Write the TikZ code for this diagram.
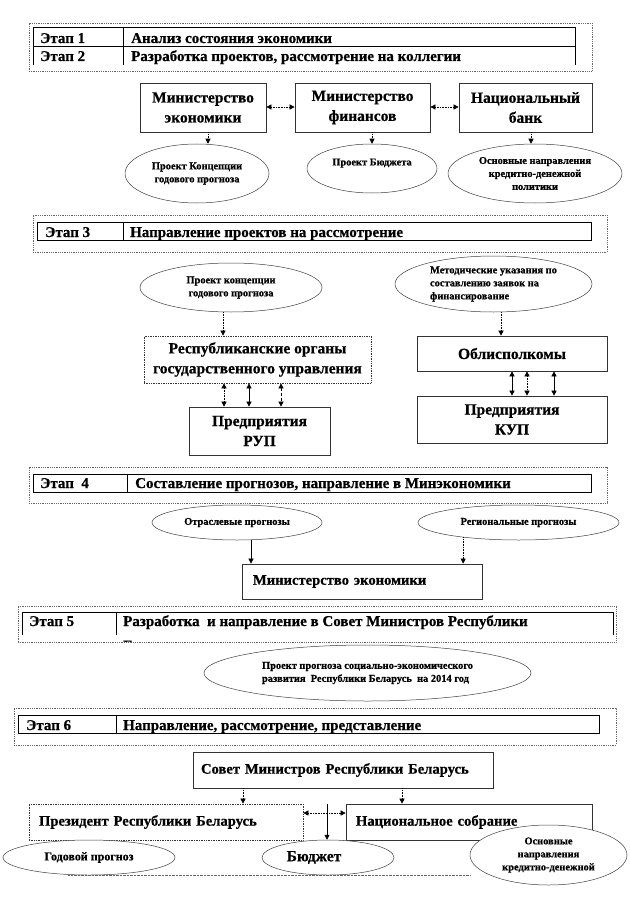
\documentclass[tikz,border=0pt]{standalone}
\usepackage{fontspec}
\setmainfont{Liberation Serif}[BoldFeatures={FakeBold=0.6}]
\usetikzlibrary{shapes.geometric,arrows.meta}
\newcommand\stf{\fontsize{15}{18}\selectfont\bfseries}
\newcommand\bxf{\fontsize{15.5}{20}\selectfont\bfseries}
\newcommand\lbf{\fontsize{14.6}{18}\selectfont\bfseries}
\newcommand\elf{\fontsize{10.4}{13}\selectfont\bfseries}
\newcommand\gpf{\fontsize{12}{14}\selectfont\bfseries}
\begin{document}
\begin{tikzpicture}[x=1pt,y=-1pt,
 frame/.style={draw=black!60, densely dotted, line width=0.8pt, inner sep=0pt},
 tbl/.style={draw=black, line width=1pt},
 stg/.style={anchor=base west, inner sep=0pt, font=\stf},
 box/.style={draw=black!80, line width=0.7pt, inner sep=0pt, align=center, font=\bxf},
 lbox/.style={box, align=left, font=\lbf},
 ell/.style={ellipse, draw=black!75, fill=white, line width=0.5pt, inner sep=0pt, align=center, font=\elf},
 arr/.style={-{Triangle[length=5pt,width=5pt]}, line width=0.6pt},
 darr/.style={{Triangle[length=5pt,width=5pt]}-{Triangle[length=5pt,width=5pt]}, line width=0.6pt},
 dt/.style={densely dotted}
]
\fill[white] (0,0) rectangle (629,920);
\useasboundingbox (0,0) rectangle (629,920);

% ---------- Stage 1-2
\node[frame, minimum width=563, minimum height=48] (f12) at (310.5,47) {};
\draw[tbl] (33,65) -- (33,28) -- (575,28) -- (575,65);
\draw[tbl] (33,47) -- (575,47);
\draw[tbl] (123,28) -- (123,65);
\node[stg] (s1) at (40,43) {Этап 1};
\node[stg] (t1) at (131,43) {Анализ состояния экономики};
\node[stg] (s2) at (40,61) {Этап 2};
\node[stg] (t2) at (131,61) {Разработка проектов, рассмотрение на коллегии};

\node[box, minimum width=126, minimum height=49] (me1) at (203,107.5) {Министерство\\экономики};
\node[box, minimum width=135, minimum height=49] (mf) at (362.5,107.5) {Министерство\\финансов};
\node[box, minimum width=133, minimum height=49] (nb) at (525.5,107.5) {Национальный\\банк};
\draw[darr,dt] (me1.east |- 0,107) -- (mf.west |- 0,107);
\draw[darr,dt] (mf.east |- 0,107) -- (nb.west |- 0,107);

\node[ell, minimum width=144, minimum height=59] (e1) at (197,173.5) {Проект Концепции\\годового прогноза};
\node[ell, minimum width=130, minimum height=49] (e2) at (372,168.5) {Проект Бюджета\\\mbox{}};
\node[ell, minimum width=174, minimum height=59] (e3) at (535,173.5) {Основные направления\\кредитно-денежной\\политики};
\draw[arr,dt] (me1.south -| 208,0) -- (e1.north -| 208,0);
\draw[arr,dt] (mf.south -| e2.north) -- (e2.north);
\draw[arr,dt] (nb.south -| 531,0) -- (e3.north -| 531,0);

% ---------- Stage 3
\node[frame, minimum width=574, minimum height=37] (f3) at (320,233.5) {};
\draw[tbl] (37,222) rectangle (591,240);
\draw[tbl] (123,222) -- (123,240);
\node[stg] (s3) at (45,237) {Этап 3};
\node[stg] (t3) at (130,237) {Направление проектов на рассмотрение};

\node[ell, minimum width=182, minimum height=49] (e4) at (231,287.5) {Проект концепции\\годового прогноза};
\node[ell, align=left, minimum width=197, minimum height=56] (e5) at (493.5,284) {Методические указания по\\составлению заявок на\\финансирование};
\node[box, dt, minimum width=227, minimum height=47] (ro) at (257.5,359.5) {Республиканские органы\\государственного управления};
\node[box, minimum width=141, minimum height=48] (rup) at (259.5,431) {Предприятия\\РУП};
\node[box, minimum width=190, minimum height=35] (obl) at (512,353.5) {Облисполкомы};
\node[box, minimum width=190, minimum height=47] (kup) at (512,419.5) {Предприятия\\КУП};

\draw[arr,dt] (e4.south -| 223,0) -- (ro.north -| 223,0);
\draw[arr,dt] (e5.south -| 501,0) -- (obl.north -| 501,0);
\draw[darr,dt] (ro.south -| 224,0) -- (rup.north -| 224,0);
\draw[darr] (ro.south -| 249,0) -- (rup.north -| 249,0);
\draw[darr,densely dashed] (ro.south -| 281,0) -- (rup.north -| 281,0);
\draw[darr] (obl.south -| 512,0) -- (kup.north -| 512,0);
\draw[darr,dt] (obl.south -| 527,0) -- (kup.north -| 527,0);
\draw[darr] (obl.south -| 554,0) -- (kup.north -| 554,0);

% ---------- Stage 4
\node[frame, minimum width=578, minimum height=36] (f4) at (318,485) {};
\draw[tbl] (33,474) rectangle (591,492);
\draw[tbl] (127,474) -- (127,492);
\node[stg] (s4) at (40,488) {Этап\ \ 4};
\node[stg] (t4) at (135,488) {Составление прогнозов, направление в Минэкономики};

\node[ell, minimum width=170, minimum height=35] (e6) at (237,522.5) {Отраслевые прогнозы};
\node[ell, minimum width=201, minimum height=35] (e7) at (518.5,522.5) {Региональные прогнозы};
\node[lbox, minimum width=240, minimum height=35, text width=218, inner xsep=11] (me2) at (362,581.5) {Министерство экономики};
\draw[arr] (e6.south -| 251,0) -- (me2.north -| 251,0);
\draw[arr,dt] (e7.195) -- (e7.195 |- me2.north);

% ---------- Stage 5
\node[frame, minimum width=598, minimum height=36] (f5) at (317,624) {};
\draw[tbl] (22,635) -- (22,612) -- (613,612) -- (613,635);
\draw[tbl] (116,612) -- (116,635);
\node[stg] (s5) at (29,626) {Этап 5};
\node[stg] (t5) at (123,626) {Разработка\ \ и направление в Совет Министров Республики};
\begin{scope}
\clip (116,612) rectangle (613,641.5);
\node[stg] (t5b) at (123,650.5) {Беларусь};
\end{scope}
\node[ell, align=left, minimum width=327, minimum height=56] (e8) at (367.5,673) {Проект прогноза социально-экономического\\развития\ \ Республики Беларусь\ \ на 2014 год};

% ---------- Stage 6
\node[frame, minimum width=602, minimum height=37] (f6) at (315,726.5) {};
\draw[tbl] (18,715) rectangle (599,733);
\draw[tbl] (116,715) -- (116,733);
\node[stg] (s6) at (26,730) {Этап 6};
\node[stg] (t6) at (123,730) {Направление, рассмотрение, представление};

\node[lbox, minimum width=300, minimum height=36, text width=284, inner xsep=8] (sov) at (343,770) {Совет Министров Республики Беларусь};
\node[lbox, dt, minimum width=274, minimum height=36, text width=254, inner xsep=10] (pres) at (166,822) {Президент Республики Беларусь};
\node[lbox, minimum width=246, minimum height=36, text width=226, inner xsep=10] (nat) at (469,822) {Национальное собрание};
\draw[arr,dt] (sov.south -| 243,0) -- (pres.north -| 243,0);
\draw[arr,dt] (sov.south -| 402,0) -- (nat.north -| 402,0);
\draw[darr,dt] (pres.east |- 0,813) -- (nat.west |- 0,813);

\draw[draw=black!60, dt] (68,875) -- (470,875);
\node[ell, minimum width=172, minimum height=35, font=\gpf] (e9) at (89,857.5) {Годовой прогноз};
\node[ell, minimum width=132, minimum height=35, font=\bxf] (bud) at (328,857.5) {Бюджет\hspace*{28pt}};
\node[ell, minimum width=157, minimum height=60] (e10) at (548.5,855) {Основные\\направления\\кредитно-денежной};
\coordinate (vt) at (327,804);
\draw[arr] (vt) -- (vt |- bud.north);
\end{tikzpicture}
\end{document}
